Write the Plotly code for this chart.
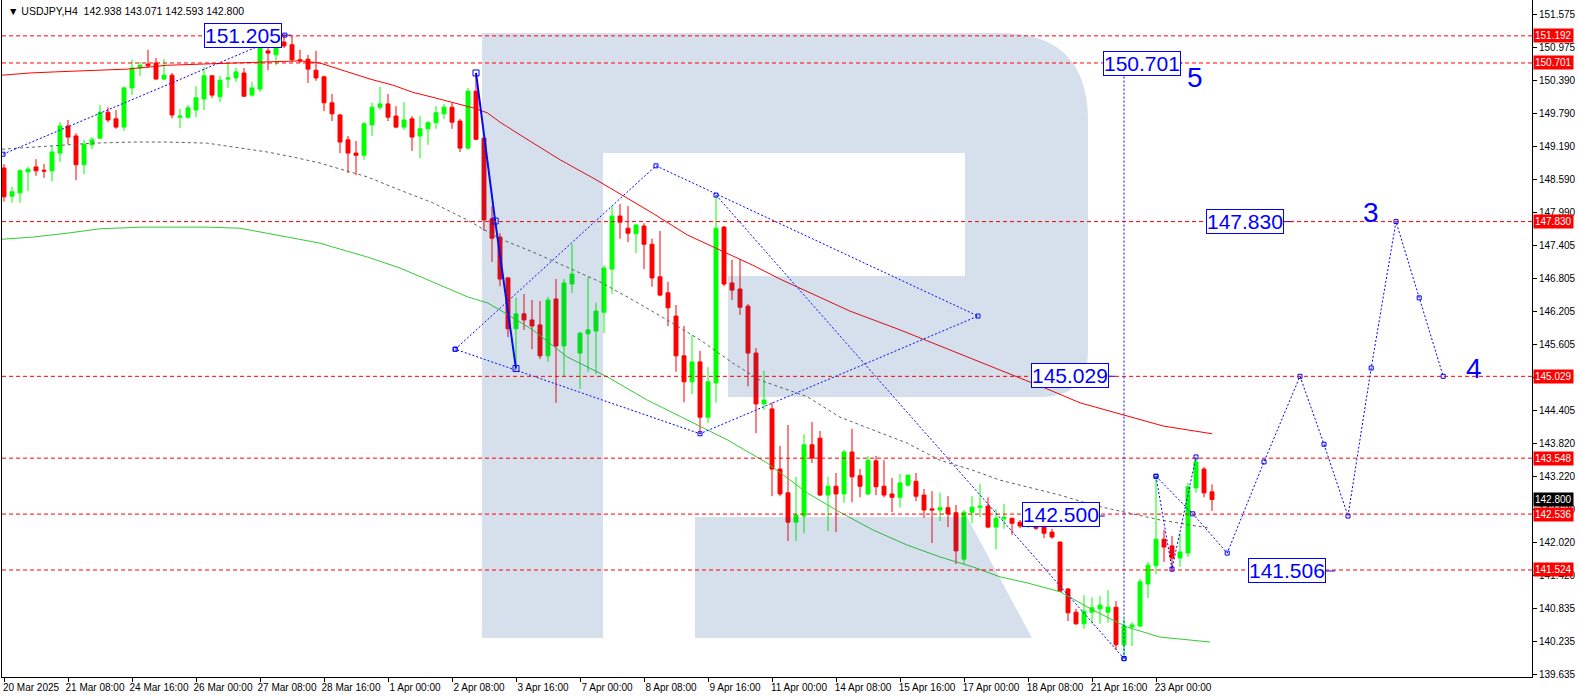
import plotly.graph_objects as go

# ---------------- data ----------------
opens = [148.80,148.29,148.35,148.73,148.82,148.76,148.75,149.07,149.56,149.38,
         148.86,149.22,149.34,149.81,149.69,149.54,150.25,150.61,150.68,150.70,
         150.41,150.48,149.72,149.72,149.85,150.05,150.47,150.09,150.41,150.43,
         150.52,150.12,150.23,150.92,150.85,151.08,151.03,150.76,150.77,150.57,
         150.45,149.98,149.76,149.31,149.07,149.03,149.58,149.90,149.96,149.74,
         149.54,149.69,149.38,149.51,149.62,149.78,149.90,149.65,149.16,150.19,
         149.34,147.88,147.55,146.81,145.89,146.16,146.05,145.96,145.40,146.43,
         145.58,146.70,145.45,145.80,145.85,146.19,146.97,147.93,147.71,147.61,
         147.75,147.42,146.83,146.54,146.12,145.40,144.93,145.29,144.29,144.91,
         147.73,146.72,146.61,146.30,145.45,144.53,144.44,143.35,142.92,142.39,
         142.50,143.79,143.91,142.88,143.04,142.90,143.66,143.23,142.90,143.50,
         143.04,142.90,142.84,143.06,143.13,142.88,142.63,142.61,142.65,142.56,
         141.72,142.57,142.66,142.68,142.30,142.45,142.46,142.39,142.32,142.36,
         142.32,142.21,142.03,141.18,140.76,140.55,140.76,140.82,140.76,140.85,
         140.17,140.49,140.51,141.27,141.60,142.08,141.96,141.74,141.83,143.01,
         143.35,142.938]
highs = [148.87,148.46,148.78,148.82,148.96,148.87,149.20,149.63,149.67,149.43,
         149.31,149.36,149.94,149.90,149.85,150.27,150.76,150.72,150.94,150.79,
         150.77,150.52,149.87,149.94,150.28,150.63,150.48,150.47,150.70,150.61,
         150.61,150.36,151.06,151.19,151.13,151.205,151.20,150.94,150.85,150.92,
         150.47,150.14,149.78,149.38,149.29,149.63,149.98,150.27,150.14,149.92,
         149.99,149.74,149.74,149.65,149.92,149.96,149.98,149.69,150.25,150.52,
         149.36,148.11,147.62,146.83,146.45,146.52,146.41,146.39,146.47,146.79,
         146.79,147.42,145.83,146.83,146.36,147.04,148.11,148.15,148.11,147.77,
         147.80,147.52,147.66,146.74,146.32,145.94,145.78,145.49,145.20,148.31,
         147.75,147.14,147.15,146.34,145.54,145.13,144.56,143.77,144.15,143.21,
         143.98,144.20,144.04,143.21,143.28,143.70,144.08,143.35,143.59,143.59,
         143.51,143.19,143.26,143.25,143.28,142.99,142.95,142.92,142.86,142.70,
         142.61,142.86,143.08,142.84,142.63,142.72,142.47,142.43,142.39,142.41,
         142.43,142.27,142.04,141.20,140.82,141.07,141.03,141.05,141.16,140.96,
         140.64,140.58,141.36,141.67,143.24,142.25,142.14,142.19,143.10,143.548,
         143.39,143.071]
lows = [148.19,148.17,148.17,148.38,148.66,148.62,148.56,148.91,149.23,148.58,
        148.69,149.14,149.33,149.63,149.51,149.47,150.12,150.47,150.61,150.40,
        150.39,149.70,149.52,149.69,149.72,149.85,150.07,149.99,150.25,150.36,
        150.09,150.09,150.18,150.57,150.66,150.97,150.72,150.70,150.34,150.38,
        149.83,149.65,149.07,148.71,148.67,148.95,149.38,149.85,149.65,149.52,
        149.49,149.11,148.98,149.22,149.51,149.69,149.51,149.09,149.13,149.31,
        147.66,147.10,146.66,145.74,145.17,145.87,145.52,145.34,145.29,144.55,
        145.02,146.54,144.80,145.11,145.07,145.81,146.52,147.52,147.46,147.26,
        146.97,146.65,146.48,145.94,145.11,144.56,144.71,143.99,144.18,144.55,
        146.66,146.41,146.14,144.85,144.00,144.42,142.86,142.86,142.05,142.05,
        142.19,143.46,142.86,142.23,142.21,142.74,142.75,142.84,142.88,142.88,
        142.84,142.57,142.65,143.04,142.77,142.47,142.01,142.41,142.30,141.63,
        141.63,142.37,142.48,142.28,141.90,142.27,142.16,142.28,142.28,142.25,
        142.10,142.09,141.13,140.60,140.53,140.46,140.55,140.55,140.57,140.08,
        139.92,140.15,140.49,141.02,141.45,141.67,141.49,141.58,141.76,142.92,
        142.84,142.593]
closes = [148.28,148.37,148.75,148.78,148.75,148.745,149.09,149.56,149.36,148.86,
          149.23,149.31,149.81,149.67,149.54,150.25,150.61,150.66,150.65,150.41,
          150.48,149.76,149.74,149.89,150.07,150.47,150.12,150.39,150.43,150.54,
          150.10,150.25,150.97,150.88,151.08,151.01,150.76,150.74,150.59,150.43,
          149.98,149.78,149.27,149.07,149.03,149.60,149.90,149.96,149.72,149.54,
          149.67,149.36,149.51,149.62,149.80,149.90,149.63,149.16,150.19,149.32,
          147.86,147.53,146.79,145.89,146.16,146.05,145.94,145.40,146.41,145.58,
          146.72,146.88,145.81,145.87,146.21,146.99,147.93,147.82,147.62,147.77,
          147.42,146.81,146.50,146.27,145.40,144.93,145.29,144.29,144.93,147.71,
          146.70,146.59,146.28,145.45,144.53,144.60,143.35,142.90,142.39,142.52,
          143.79,143.55,142.88,143.04,142.90,143.66,143.21,143.04,143.51,143.03,
          142.88,142.84,143.10,143.24,142.86,142.61,142.61,142.65,142.54,141.87,
          142.57,142.66,142.68,142.30,142.46,142.48,142.37,142.32,142.36,142.28,
          142.19,142.12,141.14,140.75,140.55,140.78,140.84,140.89,140.85,140.17,
          140.51,140.53,141.31,141.61,142.08,141.94,141.74,141.85,143.03,143.48,
          142.92,142.800]
bars = list(range(len(opens)))

tick_bars = [0, 8, 16, 24, 32, 40, 48, 56, 64, 72, 80, 88, 96, 104, 112, 120, 128, 136, 144]
tick_labels = ["20 Mar 2025", "21 Mar 08:00", "24 Mar 16:00", "26 Mar 00:00", "27 Mar 08:00",
               "28 Mar 16:00", "1 Apr 00:00", "2 Apr 08:00", "3 Apr 16:00", "7 Apr 00:00",
               "8 Apr 08:00", "9 Apr 16:00", "11 Apr 00:00", "14 Apr 08:00", "15 Apr 16:00",
               "17 Apr 00:00", "18 Apr 08:00", "21 Apr 16:00", "23 Apr 00:00"]
price_ticks = [151.575, 150.975, 150.390, 149.790, 149.190, 148.590, 147.990, 147.405,
               146.805, 146.205, 145.605, 145.005, 144.405, 143.820, 143.220, 142.620,
               142.020, 141.420, 140.835, 140.235, 139.635]
# the 145.005 label sits completely under the 145.029 level tag in the original
price_tick_text = ["" if v == 145.005 else f"{v:.3f}" for v in price_ticks]

# moving averages (sampled points)
ma_red_x = [-0.25, 3.25, 6.4, 10.4, 13.25, 15.4, 20.4, 24.5, 30.75, 34.5, 37, 39.5, 43.25, 45.75,
            48.6, 51.1, 53.6, 56.1, 58.6, 60.4, 62, 64.5, 69.5, 74.1, 81.1, 85.4, 89.5, 93.6, 97,
            105.75, 112, 118.25, 124.5, 130.75, 134.5, 139.5, 144.9, 151]
ma_red_y = [150.48, 150.52, 150.54, 150.56, 150.57, 150.59, 150.66, 150.68, 150.70, 150.72, 150.74,
            150.70, 150.52, 150.41, 150.30, 150.17, 150.08, 149.98, 149.89, 149.80, 149.63, 149.40,
            148.95, 148.58, 147.98, 147.59, 147.32, 147.04, 146.79, 146.21, 145.87, 145.51, 145.14,
            144.78, 144.55, 144.35, 144.13, 143.99]
ma_green_x = [-0.25, 3.6, 7.9, 12, 17.4, 25.4, 29.5, 32.9, 36.1, 39.5, 41.1, 45.4, 49.5, 53.6, 57.9,
              60.4, 62, 66.1, 70.4, 75.4, 80.4, 85.4, 90.4, 95.4, 100.4, 104.5, 108.6, 112.9, 117,
              121.1, 124.5, 127.9, 132, 136.1, 140.4, 144.5, 150.75]
ma_green_y = [147.51, 147.55, 147.62, 147.70, 147.73, 147.73, 147.71, 147.62, 147.53, 147.44, 147.37,
              147.19, 146.99, 146.74, 146.47, 146.36, 146.23, 145.87, 145.38, 145.02, 144.60, 144.24,
              143.88, 143.46, 142.92, 142.57, 142.25, 141.975, 141.76, 141.58, 141.40, 141.29, 141.13,
              140.80, 140.49, 140.31, 140.22]
ma_grey_x = [-0.25, 3.6, 7.9, 11.1, 16.1, 20.4, 25.4, 28.6, 32.9, 36.1, 39.5, 41.1, 45.4, 49.5, 53.6,
             57.9, 62, 66.1, 70.4, 74.5, 78.6, 82.9, 87, 91.1, 94.5, 100.4, 104.5, 108.6, 112.9, 117,
             121.1, 124.5, 127.9, 132, 136.1, 140.4, 144.5, 150.75]
ma_grey_y = [149.14, 149.18, 149.22, 149.25, 149.27, 149.27, 149.25, 149.18, 149.09, 149.00, 148.89,
             148.82, 148.64, 148.40, 148.17, 147.86, 147.52, 147.28, 147.01, 146.74, 146.41, 146.05,
             145.69, 145.27, 144.96, 144.66, 144.29, 144.06, 143.82, 143.51, 143.33, 143.15, 143.03,
             142.88, 142.70, 142.56, 142.43, 142.28]

# horizontal levels
levels = [151.192, 150.701, 147.830, 145.029, 143.548, 142.536, 141.524]
last_price = 142.800

# wave analysis drawings
trend_up_x = [-0.125, 35.1]
trend_up_y = [149.05, 151.205]
drop_x = [59, 61.4, 64]
drop_y = [150.52, 147.84, 145.17]
diamond_x = [56.4, 81.5, 121.75, 87, 56.4]
diamond_y = [145.52, 148.84, 146.12, 143.99, 145.52]
steep_x = [89, 140]
steep_y = [148.31, 139.92]
wave5_x = [140, 140]
wave5_y = [139.92, 150.70]
small_zz_x = [144, 146, 149]
small_zz_y = [143.22, 141.54, 143.57]
forecast_x = [144, 148.6, 152.9, 157.5, 162, 165, 168, 170.9, 174, 176.9, 179.9]
forecast_y = [143.22, 142.54, 141.83, 143.48, 145.03, 143.80, 142.50, 145.18, 147.83, 146.45, 145.03]

price_boxes = [  # (text, bar, price, anchor)
    ("151.205", 34.75, 151.207, "right"),
    ("150.701", 137.4, 150.69, "left"),
    ("147.830", 150.25, 147.84, "left"),
    ("145.029", 128.4, 145.04, "left"),
    ("142.500", 127.25, 142.53, "left"),
    ("141.506", 155.5, 141.515, "left"),
]
connectors = [  # (x0, x1, price)
    (34.75, 35.9, 151.205), (159.6, 161.1, 147.83), (137.6, 138.9, 145.03),
    (136.5, 137.6, 142.50), (164.75, 166.4, 141.506), (146.6, 147.3, 150.70),
]
wave_labels = [("5", 148.9, 150.43), ("3", 170.9, 147.99), ("4", 183.75, 145.18)]

# ---------------- figure ----------------
BLUE = "#0000ff"
fig = go.Figure()

fig.add_trace(go.Candlestick(
    x=bars, open=opens, high=highs, low=lows, close=closes,
    increasing=dict(line=dict(color="#00ff00", width=1), fillcolor="#00ff00"),
    decreasing=dict(line=dict(color="#ff0000", width=1), fillcolor="#ff0000"),
    whiskerwidth=0, showlegend=False, hoverinfo="skip"))

fig.add_trace(go.Scatter(x=ma_grey_x, y=ma_grey_y, mode="lines",
                         line=dict(color="#606060", width=1, dash="3px,3px"), hoverinfo="skip"))
fig.add_trace(go.Scatter(x=ma_green_x, y=ma_green_y, mode="lines",
                         line=dict(color="#32cd32", width=1), hoverinfo="skip"))
fig.add_trace(go.Scatter(x=ma_red_x, y=ma_red_y, mode="lines",
                         line=dict(color="#ff0000", width=1), hoverinfo="skip"))

dot = dict(color=BLUE, width=1, dash="2px,2px")
for xs, ys in [(trend_up_x, trend_up_y), (diamond_x, diamond_y), (steep_x, steep_y),
               (wave5_x, wave5_y), (small_zz_x, small_zz_y), (forecast_x, forecast_y)]:
    fig.add_trace(go.Scatter(x=xs, y=ys, mode="lines+markers", line=dot,
                             marker=dict(symbol="square-open", size=4, color=BLUE, line=dict(width=1)),
                             hoverinfo="skip"))
fig.add_trace(go.Scatter(x=drop_x, y=drop_y, mode="lines+markers",
                         line=dict(color=BLUE, width=2),
                         marker=dict(symbol="square-open", size=6, color=BLUE, line=dict(width=1)),
                         hoverinfo="skip"))
cx, cy = [], []
for x0, x1, p in connectors:
    cx += [x0, x1, None]
    cy += [p, p, None]
fig.add_trace(go.Scatter(x=cx, y=cy, mode="lines", line=dict(color=BLUE, width=1), hoverinfo="skip"))

# watermark "R" (decorative, in paper coordinates from pixel layout)
L_, R_, T_, B_ = 2, 1532, 0, 677
def P(px, py):
    return f"{(px - L_) / (R_ - L_):.5f},{(B_ - py) / (B_ - T_):.5f}"
r_path = ("M" + P(482, 33) + " L" + P(1000, 33) + " Q" + P(1088, 33) + " " + P(1088, 121) +
          " L" + P(1088, 350) + " Q" + P(1088, 397) + " " + P(1041, 397) + " L" + P(728, 397) +
          " L" + P(728, 276) + " L" + P(965, 276) + " L" + P(965, 153) + " L" + P(603, 153) +
          " L" + P(603, 638) + " L" + P(482, 638) + " Z" +
          " M" + P(695, 517) + " L" + P(967, 517) + " L" + P(1032, 638) + " L" + P(695, 638) + " Z")
shapes = [dict(type="path", path=r_path, xref="paper", yref="paper", layer="above",
               fillcolor="rgba(30,80,150,0.18)", line=dict(width=0))]
for lv in levels:
    shapes.append(dict(type="line", xref="paper", x0=0, x1=1, yref="y", y0=lv, y1=lv,
                       layer="above", line=dict(color="#ff0000", width=1, dash="4px,3px")))

annotations = []
for lv in levels:
    annotations.append(dict(xref="paper", x=1, xanchor="left", xshift=1, yref="y", y=lv,
                            yanchor="middle", text=f"{lv:.3f}", showarrow=False,
                            font=dict(family="Liberation Sans", size=10, color="white"),
                            bgcolor="#ff0000", borderpad=1))
annotations.append(dict(xref="paper", x=1, xanchor="left", xshift=1, yref="y", y=last_price,
                        yanchor="middle", text=f"{last_price:.3f}", showarrow=False,
                        font=dict(family="Liberation Sans", size=10, color="white"),
                        bgcolor="#000000", borderpad=1))
for txt, bx, p, anc in price_boxes:
    annotations.append(dict(x=bx, y=p, xanchor=anc, yanchor="middle", text=txt, showarrow=False,
                            font=dict(family="Liberation Sans", size=21, color=BLUE),
                            bgcolor="white", bordercolor=BLUE, borderwidth=1, borderpad=0))
for txt, bx, p in wave_labels:
    annotations.append(dict(x=bx, y=p, xanchor="center", yanchor="middle", text=txt, showarrow=False,
                            font=dict(family="Liberation Sans", size=28, color=BLUE)))
annotations.append(dict(xref="paper", yref="paper", x=0, y=1, xanchor="left", yanchor="top",
                        xshift=4, yshift=-3, showarrow=False,
                        text="\u25BC USDJPY,H4  142.938 143.071 142.593 142.800",
                        font=dict(family="Liberation Sans", size=10.5, color="black")))

fig.update_layout(
    width=1578, height=698, margin=dict(l=2, r=46, t=0, b=21),
    paper_bgcolor="white", plot_bgcolor="white", showlegend=False,
    font=dict(family="Liberation Sans", size=10, color="black"),
    shapes=shapes, annotations=annotations,
    xaxis=dict(range=[-0.25, 191.0], showgrid=False, zeroline=False, showline=True,
               linecolor="black", linewidth=1, ticks="outside", ticklen=4, tickcolor="black",
               tickvals=tick_bars, ticktext=tick_labels, ticklabelshift=27, ticklabelstandoff=-3,
               automargin=False, rangeslider=dict(visible=False), tickfont=dict(size=10)),
    yaxis=dict(range=[139.587, 151.841], side="right", showgrid=False, zeroline=False,
               showline=True, mirror=True, linecolor="black", linewidth=1, ticks="outside",
               ticklen=4, tickcolor="black", tickvals=price_ticks, automargin=False,
               ticktext=price_tick_text, tickfont=dict(size=10)),
)
fig.write_html("out.html", config={"displayModeBar": False},
               post_script="document.body.style.margin='0';document.body.style.overflow='hidden';")
